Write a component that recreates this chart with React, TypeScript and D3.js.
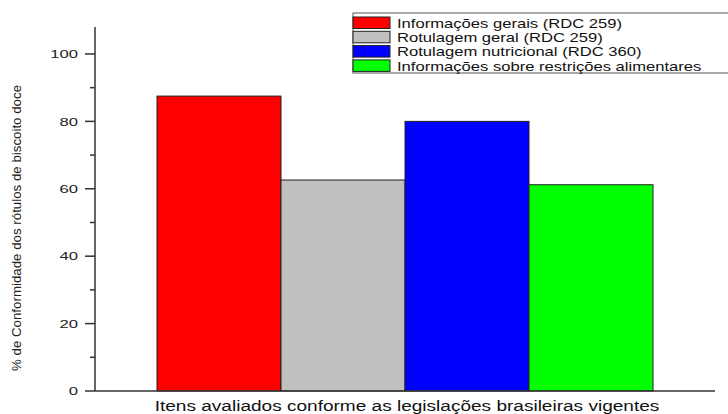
import React from "react";
import * as d3 from "d3";

const categories = ["Itens"];
const seriesNames = [
  "Informações gerais (RDC 259)",
  "Rotulagem geral (RDC 259)",
  "Rotulagem nutricional (RDC 360)",
  "Informações sobre restrições alimentares",
];
const seriesValues = [87.5, 62.6, 80.0, 61.2];
const seriesColors = ["#ff0000", "#c0c0c0", "#0000ff", "#00ff00"];
const majorTicks = [0, 20, 40, 60, 80, 100];
const minorTicks = [10, 30, 50, 70, 90];
const yTitle = "% de Conformidade dos rótulos de biscoito doce";
const xTitle = "Itens avaliados conforme as legislações brasileiras vigentes";

const W = 728;
const H = 414;
const left = 95;
const right = 715;
const top = 27;
const bottom = 391;
const font = "'Liberation Sans', Arial, sans-serif";

export default function App() {
  const y = d3.scaleLinear().domain([0, 108]).range([bottom, top]);
  const x0 = d3
    .scaleBand<string>()
    .domain(categories)
    .range([left, right])
    .paddingInner(0)
    .paddingOuter(0.125);
  const x1 = d3
    .scaleBand<string>()
    .domain(seriesNames)
    .range([0, x0.bandwidth()])
    .padding(0);

  const legX = 353;
  const legY = 13;
  const rowH = 14.3;

  return (
    <svg
      width={W}
      height={H}
      style={{ position: "absolute", left: 0, top: 0, background: "#fff" }}
      fontFamily={font}
    >
      <rect x={0} y={0} width={W} height={H} fill="#fff" />
      {categories.map((c) => (
        <g key={c} transform={`translate(${x0(c)},0)`}>
          {seriesNames.map((s, i) => (
            <rect
              key={s}
              x={x1(s)}
              y={y(seriesValues[i])}
              width={x1.bandwidth()}
              height={y(0) - y(seriesValues[i])}
              fill={seriesColors[i]}
              stroke="#222"
              strokeWidth={1}
            />
          ))}
        </g>
      ))}
      {/* axes */}
      <line x1={left} x2={left} y1={top} y2={bottom} stroke="#333" strokeWidth={1.5} />
      <line x1={left} x2={right} y1={bottom} y2={bottom} stroke="#333" strokeWidth={1.5} />
      {majorTicks.map((t) => (
        <g key={t}>
          <line x1={left - 10} x2={left} y1={y(t)} y2={y(t)} stroke="#333" strokeWidth={1.5} />
          <text
            transform={`translate(${left - 17},${y(t)}) scale(1.45,1)`}
            dy="0.36em"
            textAnchor="end"
            fontSize={11.5}
            fill="#222"
          >
            {t}
          </text>
        </g>
      ))}
      {minorTicks.map((t) => (
        <line key={t} x1={left - 5} x2={left} y1={y(t)} y2={y(t)} stroke="#333" strokeWidth={1.5} />
      ))}
      <text
        transform={`translate(21,${228}) rotate(-90)`}
        textAnchor="middle"
        fontSize={13.3}
        fill="#222"
      >
        {yTitle}
      </text>
      <text
        transform={`translate(${407},${410.5}) scale(1.36,1)`}
        textAnchor="middle"
        fontSize={14}
        fill="#111"
      >
        {xTitle}
      </text>
      {/* legend */}
      <rect x={legX} y={legY} width={W - legX + 5} height={60} fill="#fff" stroke="#555" strokeWidth={1} />
      {seriesNames.map((s, i) => (
        <g key={s}>
          <rect
            x={legX}
            y={legY + 4 + i * rowH}
            width={37}
            height={11.5}
            fill={seriesColors[i]}
            stroke="#222"
            strokeWidth={1}
          />
          <text
            transform={`translate(397,${legY + 10 + i * rowH}) scale(1.23,1)`}
            dy="0.35em"
            fontSize={13.5}
            fill="#111"
          >
            {s}
          </text>
        </g>
      ))}
    </svg>
  );
}
